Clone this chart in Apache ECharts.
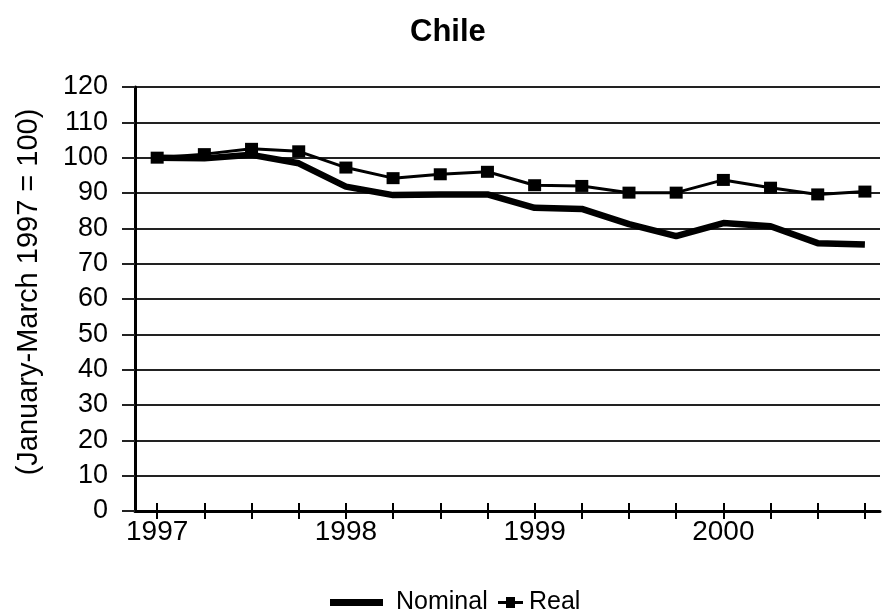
<!DOCTYPE html>
<html lang="en">
<head>
    <meta charset="UTF-8">
    <title>Chile</title>
    <script type="text/javascript" src="https://cdn.jsdelivr.net/npm/echarts@6/dist/echarts.min.js"></script>
    <style>
        html, body { margin: 0; padding: 0; background: #fff; }
    </style>
</head>
<body>
<div id="main" style="width: 883px;height:616px;"></div>

<script type="text/javascript">
    // quarterly index, Jan-Mar 1997 = 100
    var quarters = ['1997Q1','1997Q2','1997Q3','1997Q4','1998Q1','1998Q2','1998Q3','1998Q4',
                    '1999Q1','1999Q2','1999Q3','1999Q4','2000Q1','2000Q2','2000Q3','2000Q4'];
    var nominal = [100, 99.8, 100.8, 98.4, 91.8, 89.4, 89.6, 89.6, 85.8, 85.5, 81.2, 77.8, 81.5, 80.6, 75.8, 75.4];
    var real = [100, 101, 102.5, 101.8, 97.2, 94.2, 95.3, 96.0, 92.2, 92.0, 90.1, 90.1, 93.7, 91.5, 89.6, 90.4];
    var yearLabels = ['1997', '1998', '1999', '2000'];
    var yearPos = [0, 4, 8, 12];

    var font = 'Liberation Sans, Arial, Helvetica, sans-serif';

    var tickPos = [];
    var nomData = [];
    var realData = [];
    for (var i = 0; i < quarters.length; i++) {
        tickPos.push(i);
        nomData.push([i, nominal[i]]);
        realData.push([i, real[i]]);
    }

    var myChart = echarts.init(document.getElementById('main'), null, {renderer: 'canvas'});

    var xBase = {
        type: 'value',
        gridIndex: 0,
        position: 'bottom',
        min: -0.47,
        max: 15.32,
        splitLine: {show: false}
    };

    // icon for the Real legend entry: short line with a square
    var realIcon = 'path://M0,4 L8,4 L8,0 L17,0 L17,4 L25,4 L25,7 L17,7 L17,11 L8,11 L8,7 L0,7 Z';

    var option = {
        backgroundColor: '#fff',
        animation: false,
        title: {
            text: 'Chile',
            left: 405,
            top: 12,
            textStyle: {fontFamily: font, fontSize: 31, fontWeight: 'bold', color: '#000'}
        },
        legend: [
            {
                top: 585,
                left: 325,
                itemWidth: 53,
                itemHeight: 7,
                icon: 'rect',
                textStyle: {fontFamily: font, fontSize: 25, color: '#000', padding: [0, 0, 0, 8]},
                data: ['Nominal']
            },
            {
                top: 585,
                left: 493,
                itemWidth: 25,
                itemHeight: 11,
                icon: realIcon,
                textStyle: {fontFamily: font, fontSize: 25, color: '#000', padding: [0, 0, 0, 1]},
                data: ['Real']
            }
        ],
        grid: {
            left: 135,
            right: 3,
            top: 87,
            bottom: 105
        },
        xAxis: [
            Object.assign({}, xBase, {
                axisLine: {show: true, onZero: false, lineStyle: {color: '#000', width: 3}},
                axisTick: {show: true, length: 8, customValues: tickPos, lineStyle: {color: '#000', width: 2}},
                axisLabel: {
                    show: true,
                    customValues: yearPos,
                    margin: 7,
                    fontFamily: font,
                    fontSize: 28,
                    color: '#000',
                    formatter: function (v) {
                        var k = yearPos.indexOf(Math.round(v));
                        return k >= 0 ? yearLabels[k] : '';
                    }
                }
            }),
            Object.assign({}, xBase, {
                axisLine: {show: false, onZero: false},
                axisTick: {show: true, inside: true, length: 8, customValues: tickPos, lineStyle: {color: '#000', width: 2}},
                axisLabel: {show: false}
            })
        ],
        yAxis: {
            type: 'value',
            min: 0,
            max: 120,
            interval: 10,
            name: '(January-March 1997 = 100)',
            nameLocation: 'middle',
            nameGap: 92,
            nameRotate: 90,
            nameTextStyle: {fontFamily: font, fontSize: 29, color: '#000', padding: [0, 0, 0, 14]},
            axisLine: {show: true, onZero: false, lineStyle: {color: '#000', width: 3}},
            axisTick: {show: true, length: 13, lineStyle: {color: '#222', width: 2}},
            axisLabel: {margin: 27, fontFamily: font, fontSize: 27, color: '#000'},
            splitLine: {show: true, lineStyle: {color: '#222', width: 2}}
        },
        series: [
            {
                name: 'Nominal',
                type: 'line',
                xAxisIndex: 0,
                data: nomData,
                symbol: 'none',
                lineStyle: {color: '#000', width: 6.5},
                itemStyle: {color: '#000'},
                z: 3
            },
            {
                name: 'Real',
                type: 'line',
                xAxisIndex: 0,
                data: realData,
                symbol: 'rect',
                symbolSize: [13, 12],
                lineStyle: {color: '#000', width: 3},
                itemStyle: {color: '#000'},
                z: 4
            }
        ]
    };

    myChart.setOption(option);
</script>
</body>
</html>
